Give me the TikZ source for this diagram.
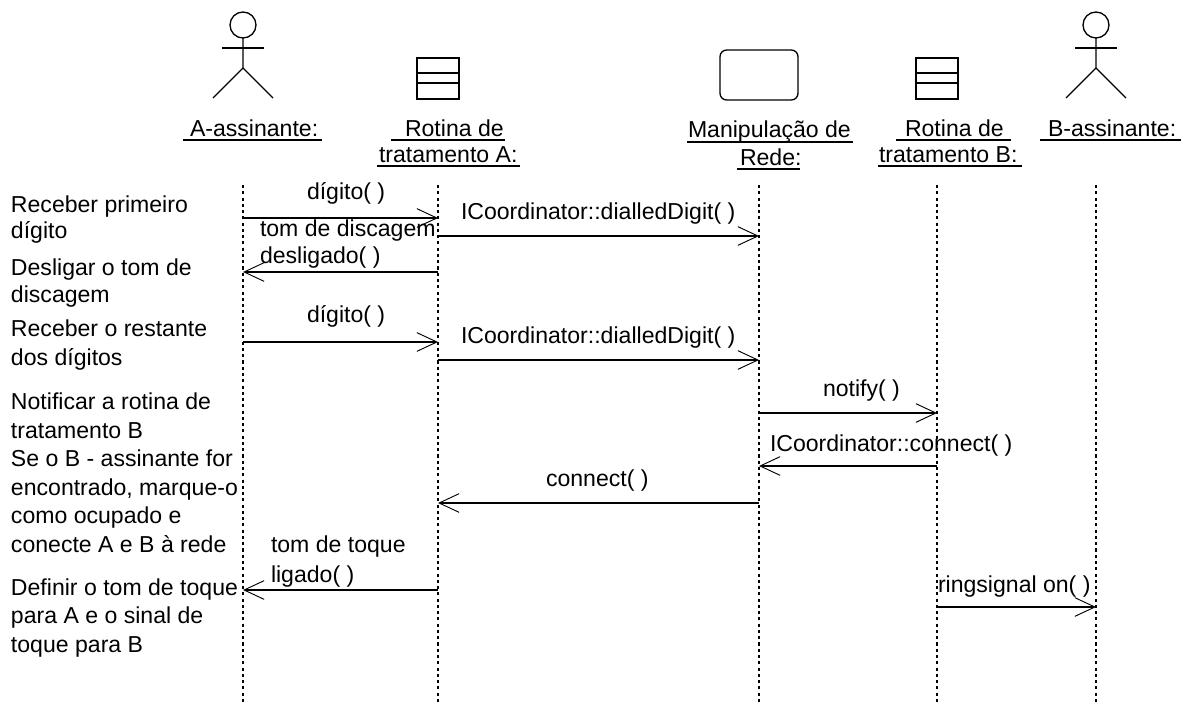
\documentclass[tikz,border=0pt]{standalone}
\usepackage{fontspec}
\setmainfont{Liberation Sans}
\usetikzlibrary{arrows.meta}
\tikzset{
  x=0.75pt,y=-0.75pt,
  life/.style={dash pattern=on 2.3pt off 2.4pt,line width=0.8pt},
  shape line/.style={line width=1pt},
  underl/.style={line width=0.9pt},
  msg/.style={line width=1pt,-{Straight Barb[length=15pt,width=14pt,line width=0.7pt]}},
  txt/.style={anchor=base west,inner sep=0pt,outer sep=0pt,font=\fontsize{17.3}{17.3}\selectfont},
}
\newcommand{\actor}[2]{%
  \draw[shape line] (#1,#2) circle[radius=13];
  \draw[shape line] (#1,#2+13) -- (#1,#2+43) -- (#1-30,#2+73);
  \draw[shape line] (#1,#2+43) -- (#1+30,#2+73);
  \draw[shape line] (#1-21,#2+23) -- (#1+21,#2+23);
}
\newcommand{\routine}[1]{%
  \draw[shape line] (#1-21,58) rectangle (#1+21,99);
  \draw[shape line] (#1-21,73) -- (#1+21,73);
  \draw[shape line] (#1-21,83) -- (#1+21,83);
}
\newcommand{\lifemsg}[3]{\coordinate (yy) at (0,#3); \draw[msg] (#1|-yy) -- (#2|-yy);}
\begin{document}
\begin{tikzpicture}
\useasboundingbox (0,0) rectangle (1183,706);
\fill[white] (0,0) rectangle (1183,706);
% icons
\actor{243}{25}
\routine{438}
\draw[shape line,rounded corners=5] (720,50) rectangle (798,100);
\routine{937}
\actor{1096}{25}
% headers
\node[txt] (h1) at (190,137) {A-assinante:};
\node[txt] (h2a) at (405,137) {Rotina de};
\node[txt] (h2b) at (379,163) {tratamento A:};
\node[txt] (h3a) at (688,138) {Manipulação de};
\node[txt] (h3b) at (740,166) {Rede:};
\node[txt] (h4a) at (905,137) {Rotina de};
\node[txt] (h4b) at (879,163) {tratamento B:};
\node[txt] (h5) at (1048,137) {B-assinante:};
\draw[underl] (183,140) -- (322,140);
\draw[underl] (391,140) -- (505,140);
\draw[underl] (377,166) -- (520,166);
\draw[underl] (687,142) -- (853,142);
\draw[underl] (737,169) -- (800,169);
\draw[underl] (896,140) -- (1011,140);
\draw[underl] (878,166) -- (1022,166);
\draw[underl] (1040,140) -- (1181,140);
% lifelines
\coordinate (a0) at (243,185); \coordinate (a1) at (243,705);
\coordinate (b0) at (438,185); \coordinate (b1) at (438,705);
\coordinate (c0) at (759,185); \coordinate (c1) at (759,705);
\coordinate (d0) at (937,185); \coordinate (d1) at (937,705);
\coordinate (e0) at (1096,185); \coordinate (e1) at (1096,705);
\draw[life] (a0)--(a1); \draw[life] (b0)--(b1); \draw[life] (c0)--(c1); \draw[life] (d0)--(d1); \draw[life] (e0)--(e1);
% messages
\lifemsg{a0}{b0}{218}
\lifemsg{b0}{c0}{236}
\lifemsg{b0}{a0}{272}
\lifemsg{a0}{b0}{342}
\lifemsg{b0}{c0}{360}
\lifemsg{c0}{d0}{413}
\lifemsg{d0}{c0}{466}
\lifemsg{c0}{b0}{503}
\lifemsg{b0}{a0}{590}
\lifemsg{d0}{e0}{607}
% message labels
\node[txt] (m1) at (307,200) {dígito( )};
\node[txt] (m2) at (461,220) {ICoordinator::dialledDigit( )};
\node[txt] (m3a) at (260,237) {tom de discagem};
\node[txt] (m3b) at (260,264) {desligado( )};
\node[txt] (m4) at (307,323) {dígito( )};
\node[txt] (m5) at (461,344) {ICoordinator::dialledDigit( )};
\node[txt] (m6) at (823,397) {notify( )};
\node[txt] (m7) at (770,451) {ICoordinator::connect( )};
\node[txt] (m8) at (546,486) {connect( )};
\node[txt] (m9a) at (271,552) {tom de toque};
\node[txt] (m9b) at (271,582) {ligado( )};
\node[txt] (m10) at (938,592) {ringsignal on( )};
% left notes
\node[txt] (n1) at (11,213) {Receber primeiro};
\node[txt] (n2) at (11,239) {dígito};
\node[txt] (n3) at (11,276) {Desligar o tom de};
\node[txt] (n4) at (11,303) {discagem};
\node[txt] (n5) at (11,337) {Receber o restante};
\node[txt] (n6) at (11,365) {dos dígitos};
\node[txt] (n7) at (11,409) {Notificar a rotina de};
\node[txt] (n8) at (11,438) {tratamento B};
\node[txt] (n9) at (11,466) {Se o B - assinante for};
\node[txt] (n10) at (11,495) {encontrado, marque-o};
\node[txt] (n11) at (11,523) {como ocupado e};
\node[txt] (n12) at (11,552) {conecte A e B à rede};
\node[txt] (n13) at (11,595) {Definir o tom de toque};
\node[txt] (n14) at (11,623) {para A e o sinal de};
\node[txt] (n15) at (11,652) {toque para B};
\end{tikzpicture}
\end{document}
